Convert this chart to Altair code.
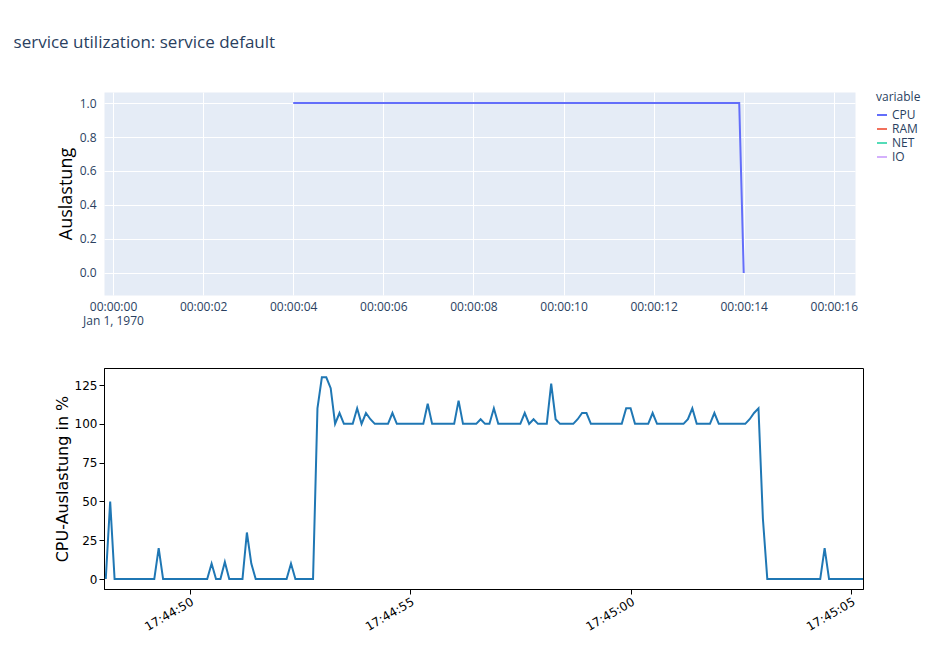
import altair as alt
import pandas as pd

# top panel: utilisation per variable (only CPU visible)
top_t = [4.0, 13.9, 14.0]
top_cpu = [1, 1, 0]
variables = ["CPU", "RAM", "NET", "IO"]
var_colors = ["#636EFA", "#EF553B", "#00CC96", "#AB63FA"]
var_opacity = [1, 0.5, 0.5, 0.5]

# bottom panel: CPU usage, seconds after 17:44:50
cpu_t = [-1.9, -1.8, -1.7, -0.8, -0.7, -0.6, 0.4, 0.5, 0.6, 0.7, 0.8, 0.9,
         1.2, 1.3, 1.4, 1.5, 2.2, 2.3, 2.4, 2.8, 2.9, 3.0, 3.1, 3.2, 3.3, 3.4,
         3.5, 3.7, 3.8, 3.9, 4.0, 4.1, 4.2, 4.5, 4.6, 4.7, 5.3, 5.4, 5.5, 6.0,
         6.1, 6.2, 6.5, 6.6, 6.7, 6.8, 6.9, 7.0, 7.5, 7.6, 7.7, 7.8, 7.9, 8.1,
         8.2, 8.3, 8.4, 8.7, 8.8, 8.9, 9.0, 9.1, 9.8, 9.9, 10.0, 10.1, 10.4,
         10.5, 10.6, 11.2, 11.3, 11.4, 11.5, 11.8, 11.9, 12.0, 12.6, 12.7, 12.8,
         12.9, 13.0, 13.1, 14.3, 14.4, 14.5, 15.3]
cpu_v = [0, 50, 0, 0, 20, 0, 0, 10, 0, 0, 11, 0,
         0, 30, 10, 0, 0, 10, 0, 0, 110, 130, 130, 123, 100, 107,
         100, 100, 110, 100, 107, 103, 100, 100, 107, 100, 100, 113, 100, 100,
         115, 100, 100, 103, 100, 100, 110, 100, 100, 107, 100, 103, 100, 100,
         126, 103, 100, 100, 103, 107, 107, 100, 100, 110, 110, 100, 100,
         107, 100, 100, 103, 110, 100, 100, 107, 100, 100, 103, 107,
         110, 39, 0, 0, 20, 0, 0]

top_df = pd.DataFrame({"t": top_t, "value": top_cpu, "variable": "CPU"})
cpu_df = pd.DataFrame({"t": cpu_t, "cpu": cpu_v})

font = "Open Sans"
legend = alt.Legend(title="variable", symbolType="stroke",
                    symbolStrokeWidth=2, titleFont=font,
                    titleFontSize=12, titleFontWeight="normal",
                    titleColor="#2a3f5f", labelFont=font,
                    labelFontSize=12, labelColor="#2a3f5f",
                    offset=12, orient="right")

top = (
    alt.Chart(top_df)
    .mark_line(strokeWidth=2, clip=True)
    .encode(
        x=alt.X("t:Q", title=None,
                scale=alt.Scale(domain=[-0.2, 16.47], nice=False, zero=False),
                axis=alt.Axis(values=list(range(0, 17, 2)), grid=True, gridColor="white",
                              gridWidth=1, domain=False, ticks=False, labelPadding=6,
                              labelFont=font, labelFontSize=12, labelColor="#2a3f5f",
                              labelExpr="datum.value == 0 ? ['00:00:00', 'Jan 1, 1970'] : utcFormat(datum.value*1000, '%H:%M:%S')")),
        y=alt.Y("value:Q", title="Auslastung",
                scale=alt.Scale(domain=[-0.13, 1.065], nice=False, zero=False),
                axis=alt.Axis(values=[0, 0.2, 0.4, 0.6, 0.8, 1], grid=True, gridColor="white",
                              domain=False, ticks=False, labelPadding=8,
                              labelFont=font, labelFontSize=12, labelColor="#2a3f5f",
                              titleFont=font, titleFontSize=18, titleFontWeight="normal",
                              titleColor="black")),
        color=alt.Color("variable:N",
                        scale=alt.Scale(domain=variables, range=var_colors),
                        legend=legend),
        opacity=alt.Opacity("variable:N",
                            scale=alt.Scale(domain=variables, range=var_opacity),
                            legend=legend),
    )
    .properties(width=751, height=203, view=alt.ViewBackground(fill="#E5ECF6", stroke="transparent"))
)

bottom = (
    alt.Chart(cpu_df)
    .mark_line(strokeWidth=2, color="#1f77b4", clip=True)
    .encode(
        x=alt.X("t:Q", title=None,
                scale=alt.Scale(domain=[-1.94, 15.27], nice=False, zero=False),
                axis=alt.Axis(values=[0, 5, 10, 15], grid=False, domainColor="black",
                              tickColor="black", labelAngle=-30, labelAlign="right",
                              labelBaseline="top",
                              labelFont="DejaVu Sans", labelFontSize=12, labelColor="black",
                              labelExpr="utcFormat((datum.value + 63890)*1000, '%H:%M:%S')")),
        y=alt.Y("cpu:Q", title="CPU-Auslastung in %",
                scale=alt.Scale(domain=[-6.4, 136], nice=False, zero=False),
                axis=alt.Axis(values=[0, 25, 50, 75, 100, 125], grid=False,
                              domainColor="black", tickColor="black",
                              labelFont="DejaVu Sans", labelFontSize=12, labelColor="black",
                              titleFont="DejaVu Sans", titleFontSize=16,
                              titleFontWeight="normal", titleColor="black")),
    )
    .properties(width=759, height=221, view=alt.ViewBackground(fill="white", stroke="black"))
)

chart = (
    alt.vconcat(top, bottom, spacing=40)
    .resolve_scale(x="independent", y="independent")
    .properties(title=alt.TitleParams("service utilization: service default", anchor="start",
                                      font=font, fontSize=17, fontWeight="normal",
                                      color="#2a3f5f", offset=40, dx=-40))
    .configure(padding={"left": 5, "top": 25, "right": 5, "bottom": 5})
)

chart.save("out.html", embed_options={"renderer": "svg", "actions": False})
